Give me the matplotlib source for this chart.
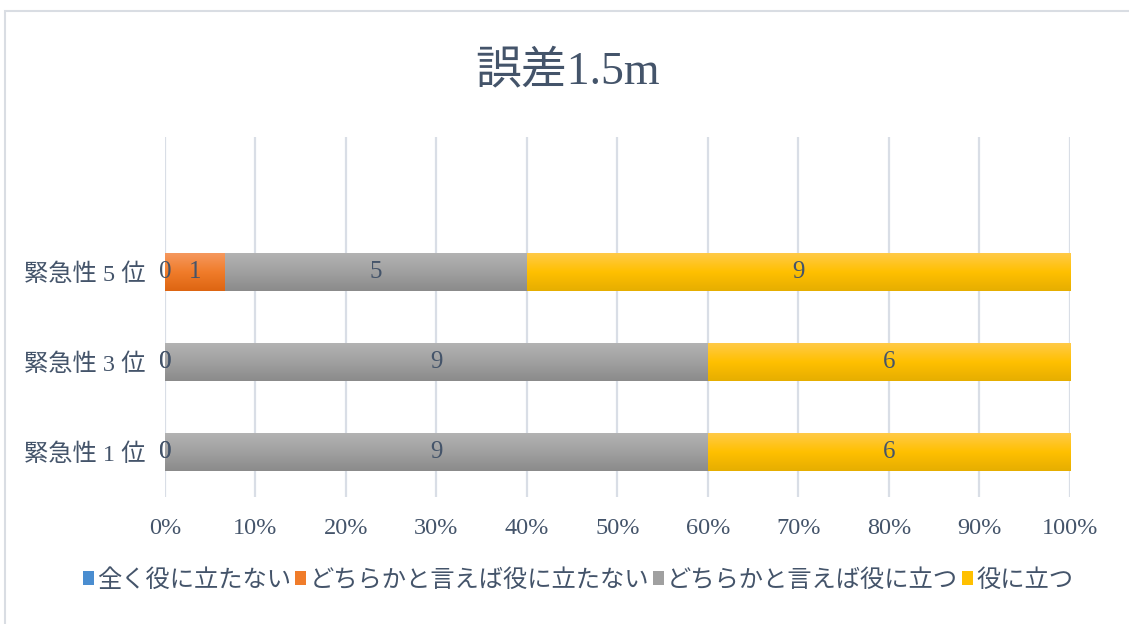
import numpy as np
import matplotlib
matplotlib.use("Agg")
import matplotlib.pyplot as plt
from matplotlib.colors import LinearSegmentedColormap
from matplotlib.patches import Rectangle, Patch

plt.rcParams['font.family'] = ['Liberation Serif', 'Noto Sans CJK JP']

title = "誤差1.5m"
categories = ["緊急性 1 位", "緊急性 3 位", "緊急性 5 位"]
series_names = ["全く役に立たない", "どちらかと言えば役に立たない",
                "どちらかと言えば役に立つ", "役に立つ"]
# answer counts per category (rows follow categories)
counts = np.array([
    [0, 0, 9, 6],
    [0, 0, 9, 6],
    [0, 1, 5, 9],
])
x_ticks = [0, 10, 20, 30, 40, 50, 60, 70, 80, 90, 100]

# top / middle / bottom shades for the vertical gradient fill
shades = [
    ("#6aa6dd", "#4a8dd0", "#3a78bb"),
    ("#f5985e", "#f07c2a", "#dd6512"),
    ("#b3b3b3", "#a0a0a0", "#8b8b8b"),
    ("#ffca47", "#ffc000", "#e6ae00"),
]
text_color = "#44546a"

fig = plt.figure(figsize=(11.29, 6.24), dpi=100)
ax = fig.add_axes([0.1461, 0.2035, 0.8016, 0.577])

pct = counts / counts.sum(axis=1, keepdims=True) * 100
y = np.arange(len(categories))
left = np.zeros(len(categories))
bar_h = 0.42

for j, name in enumerate(series_names):
    bars = ax.barh(y, pct[:, j], left=left, height=bar_h, color=shades[j][1],
                   edgecolor="none", label=name, zorder=2)
    cmap = LinearSegmentedColormap.from_list("g%d" % j, list(shades[j]))
    grad = np.linspace(0, 1, 64).reshape(-1, 1)
    for b in bars:
        if b.get_width() <= 0:
            continue
        x0, y0 = b.get_x(), b.get_y()
        ax.imshow(grad, cmap=cmap, aspect="auto", zorder=3,
                  extent=(x0, x0 + b.get_width(), y0, y0 + b.get_height()),
                  interpolation="bilinear")
    for i, b in enumerate(bars):
        ax.text(b.get_x() + b.get_width() / 2, b.get_y() + b.get_height() / 2,
                str(counts[i, j]), ha="center", va="center", fontsize=18,
                color=text_color, zorder=5)
    left += pct[:, j]

ax.set_xlim(0, 100)
ax.set_ylim(-0.5, 3.5)
ax.set_xticks(x_ticks)
ax.set_xticklabels(["%d%%" % v for v in x_ticks])
ax.set_yticks(y)
ax.set_yticklabels(categories)
ax.tick_params(axis="x", length=0, pad=15, labelsize=17.5, labelcolor=text_color)
ax.tick_params(axis="y", length=0, pad=14, labelsize=17.5, labelcolor=text_color)
ax.grid(axis="x", color="#d9dee6", linewidth=1.6, zorder=0)
ax.set_axisbelow(True)
for s in ax.spines.values():
    s.set_visible(False)

fig.text(0.503, 0.885, title, ha="center", va="center", fontsize=33,
         color=text_color)

handles = [Patch(facecolor=shades[j][1], edgecolor="none") for j in range(4)]
fig.legend(handles, series_names, loc="center", bbox_to_anchor=(0.512, 0.07),
           ncol=4, frameon=False, fontsize=17.5, labelcolor=text_color,
           handlelength=0.45, handleheight=0.45, handletextpad=0.15,
           columnspacing=0.15)

# chart frame
fig.patches.append(Rectangle((0.0045, -0.05), 1.2, 0.9824 + 0.05,
                             transform=fig.transFigure, fill=False,
                             edgecolor="#d9dde3", linewidth=1.5))

fig.savefig("out.png", dpi=100)
